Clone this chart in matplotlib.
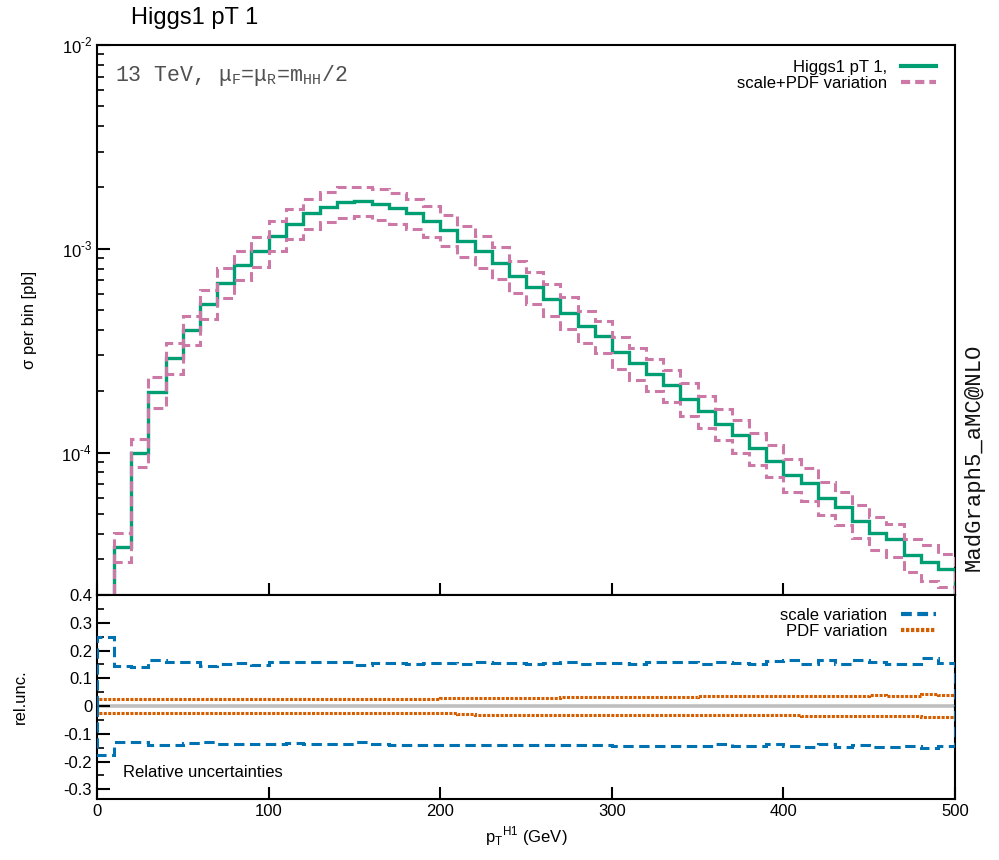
import numpy as np
import matplotlib
matplotlib.use("Agg")
import matplotlib.pyplot as plt
from matplotlib.lines import Line2D
from matplotlib.ticker import FixedLocator, FuncFormatter, LogLocator, NullFormatter, MultipleLocator

plt.rcParams["font.family"] = ["Liberation Sans", "DejaVu Sans"]
plt.rcParams["axes.unicode_minus"] = False

# 10 GeV bins from 0 to 500 GeV
bin_edges = np.arange(0, 510, 10)

# central value, sigma per bin [pb]
xsec = [
    1.0e-5, 3.44e-5, 1.00e-4, 1.98e-4, 2.91e-4, 3.98e-4, 5.34e-4, 6.82e-4, 8.31e-4, 9.70e-4,
    1.159e-3, 1.323e-3, 1.493e-3, 1.610e-3, 1.690e-3, 1.718e-3, 1.653e-3, 1.586e-3, 1.493e-3, 1.363e-3,
    1.236e-3, 1.095e-3, 9.70e-4, 8.56e-4, 7.36e-4, 6.50e-4, 5.65e-4, 4.86e-4, 4.18e-4, 3.73e-4,
    3.12e-4, 2.75e-4, 2.43e-4, 2.14e-4, 1.84e-4, 1.605e-4, 1.378e-4, 1.213e-4, 1.05e-4, 9.14e-5,
    7.77e-5, 7.06e-5, 5.96e-5, 5.42e-5, 4.61e-5, 4.05e-5, 3.76e-5, 3.16e-5, 2.90e-5, 2.67e-5,
]

# relative uncertainties
scale_up = [
    0.247, 0.143, 0.140, 0.166, 0.160, 0.157, 0.145, 0.152, 0.155, 0.148,
    0.157, 0.157, 0.157, 0.157, 0.159, 0.148, 0.156, 0.155, 0.153, 0.156,
    0.155, 0.153, 0.157, 0.156, 0.154, 0.152, 0.156, 0.157, 0.153, 0.155,
    0.155, 0.153, 0.158, 0.158, 0.158, 0.150, 0.158, 0.156, 0.152, 0.162,
    0.165, 0.150, 0.165, 0.150, 0.166, 0.158, 0.152, 0.152, 0.172, 0.156,
]
scale_dn = [
    -0.177, -0.131, -0.131, -0.141, -0.139, -0.133, -0.129, -0.137, -0.135, -0.135,
    -0.137, -0.133, -0.137, -0.137, -0.137, -0.129, -0.135, -0.139, -0.140, -0.141,
    -0.141, -0.140, -0.142, -0.141, -0.142, -0.141, -0.142, -0.141, -0.142, -0.142,
    -0.143, -0.144, -0.144, -0.144, -0.144, -0.144, -0.137, -0.144, -0.144, -0.137,
    -0.144, -0.146, -0.137, -0.146, -0.142, -0.146, -0.146, -0.144, -0.150, -0.143,
]
pdf_up = [
    0.025, 0.025, 0.025, 0.025, 0.025, 0.025, 0.025, 0.025, 0.025, 0.025,
    0.025, 0.025, 0.025, 0.025, 0.025, 0.025, 0.026, 0.026, 0.026, 0.027,
    0.029, 0.030, 0.030, 0.030, 0.030, 0.030, 0.030, 0.031, 0.031, 0.031,
    0.031, 0.031, 0.032, 0.032, 0.032, 0.035, 0.035, 0.035, 0.035, 0.035,
    0.035, 0.036, 0.037, 0.036, 0.037, 0.038, 0.037, 0.037, 0.042, 0.040,
]
pdf_dn = [
    -0.024, -0.024, -0.024, -0.024, -0.024, -0.024, -0.024, -0.024, -0.024, -0.024,
    -0.024, -0.024, -0.024, -0.024, -0.024, -0.024, -0.024, -0.024, -0.024, -0.024,
    -0.025, -0.030, -0.031, -0.031, -0.031, -0.031, -0.031, -0.031, -0.031, -0.031,
    -0.031, -0.031, -0.031, -0.031, -0.031, -0.031, -0.031, -0.031, -0.031, -0.031,
    -0.032, -0.036, -0.036, -0.036, -0.036, -0.036, -0.036, -0.037, -0.040, -0.039,
]

GREEN = "#009e73"
PINK = "#cc79a7"
BLUE = "#0072b2"
ORANGE = "#d55e00"

central = np.array(xsec)
band_hi = central * (1 + np.array(scale_up) + np.array(pdf_up))
band_lo = central * (1 + np.array(scale_dn) + np.array(pdf_dn))

fig = plt.figure(figsize=(9.99, 8.6), dpi=100)
ax1 = fig.add_axes([0.0971, 0.3081, 0.8589, 0.6396])
ax2 = fig.add_axes([0.0971, 0.0706, 0.8589, 0.2375])

# upper panel
ax1.stairs(central, bin_edges, baseline=1e-7, color=GREEN, lw=2.4, zorder=3)
for band in (band_hi, band_lo):
    ax1.stairs(band, bin_edges, baseline=1e-7, color=PINK, lw=2.2,
               linestyle=(0, (3.2, 1.7)), zorder=4)
ax1.set_yscale("log")
ax1.set_xlim(0, 500)
ax1.set_ylim(2e-5, 1e-2)
ax1.yaxis.set_major_locator(LogLocator(base=10, numticks=10))
ax1.yaxis.set_minor_locator(LogLocator(base=10, subs=np.arange(2, 10), numticks=10))
ax1.yaxis.set_minor_formatter(NullFormatter())
ax1.yaxis.set_major_formatter(
    FuncFormatter(lambda v, p: r"10$^{\mathregular{%s}}$" % ("\u2010%d" % round(-np.log10(v))))
)
ax1.xaxis.set_major_locator(MultipleLocator(100))
ax1.tick_params(axis="x", labelbottom=False)
ax1.set_ylabel("σ per bin [pb]", fontsize=12)
ax1.yaxis.set_label_coords(-0.07, 0.5)

handles = [
    Line2D([], [], color=GREEN, lw=3),
    Line2D([], [], color=PINK, lw=3, linestyle=(0, (2.2, 1.2))),
]
ax1.legend(handles, ["Higgs1 pT 1,", "scale+PDF variation"], loc="upper right",
           bbox_to_anchor=(0.985, 0.985), frameon=False, markerfirst=False,
           fontsize=12, handlelength=2.1, labelspacing=0.05, borderaxespad=0,
           handletextpad=0.8)

ax1.text(0.021, 0.968,
         r"13 TeV, $\mathregular{\mu_F}$=$\mathregular{\mu_R}$=$\mathregular{m_{HH}}$/2",
         transform=ax1.transAxes, ha="left", va="top", fontsize=15.5,
         family="Liberation Mono", color="#505050")

# lower panel
ax2.axhline(0, color="#bfbfbf", lw=2.6, zorder=1)
ax2.stairs(scale_up, bin_edges, baseline=0, color=BLUE, lw=2.2,
           linestyle=(0, (3.4, 1.8)), zorder=3)
ax2.stairs(scale_dn, bin_edges, baseline=0, color=BLUE, lw=2.2,
           linestyle=(0, (3.4, 1.8)), zorder=3)
ax2.stairs(pdf_up, bin_edges, baseline=0, color=ORANGE, lw=2.2,
           linestyle=(0, (1.0, 0.45)), zorder=2)
ax2.stairs(pdf_dn, bin_edges, baseline=0, color=ORANGE, lw=2.2,
           linestyle=(0, (1.0, 0.45)), zorder=2)
ax2.set_xlim(0, 500)
ax2.set_ylim(-0.336, 0.4)
ax2.yaxis.set_major_locator(FixedLocator([-0.3, -0.2, -0.1, 0, 0.1, 0.2, 0.3, 0.4]))
ax2.yaxis.set_minor_locator(MultipleLocator(0.05))
ax2.yaxis.set_major_formatter(FuncFormatter(lambda v, p: f"{v:g}" if abs(v) > 1e-9 else "0"))
ax2.xaxis.set_major_locator(MultipleLocator(100))
ax2.set_ylabel("rel.unc.", fontsize=12)
ax2.yaxis.set_label_coords(-0.08, 0.5)
ax2.set_xlabel(r"p$_\mathregular{T}$$^\mathregular{H1}$ (GeV)", fontsize=12, labelpad=4)
ax2.text(0.03, 0.13, "Relative uncertainties", transform=ax2.transAxes,
         ha="left", va="center", fontsize=12)

handles2 = [
    Line2D([], [], color=BLUE, lw=3, linestyle=(0, (2.6, 1.3))),
    Line2D([], [], color=ORANGE, lw=3, linestyle=(0, (0.8, 0.4))),
]
ax2.legend(handles2, ["scale variation", "PDF variation"], loc="upper right",
           bbox_to_anchor=(0.985, 0.97), frameon=False, markerfirst=False,
           fontsize=12, handlelength=2.1, labelspacing=0.05, borderaxespad=0,
           handletextpad=0.8)

for ax in (ax1, ax2):
    for side in ax.spines.values():
        side.set_linewidth(1.5)
    ax.tick_params(which="major", direction="in", length=9, width=1.5,
                   labelsize=12, top=False, right=False)
    ax.tick_params(which="minor", direction="in", length=5, width=1.2,
                   top=False, right=False)
    ax.tick_params(axis="x", which="minor", bottom=False)

fig.text(0.131, 0.979, "Higgs1 pT 1", ha="left", va="center", fontsize=17)
fig.text(0.975, 0.468, "MadGraph5_aMC@NLO", rotation=90, ha="center", va="center",
         fontsize=16, family="Liberation Mono", color="#111111")

fig.savefig("out.png", dpi=100)
